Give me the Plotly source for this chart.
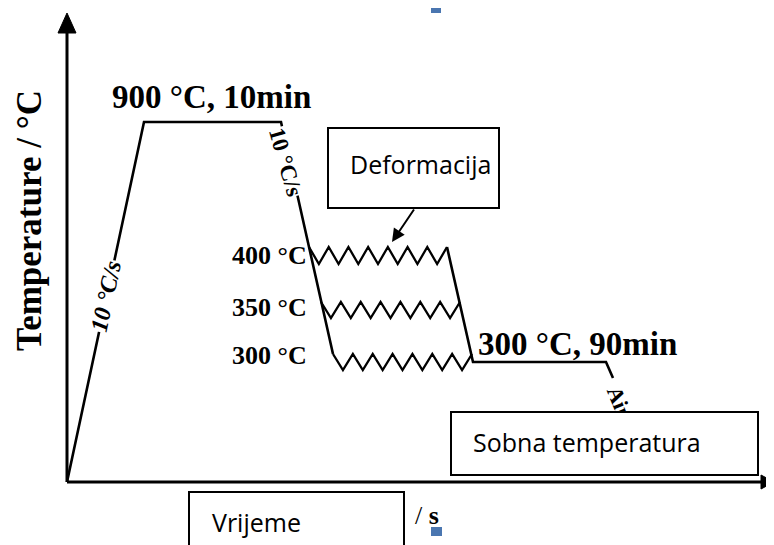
import plotly.graph_objects as go

# ---- schematic data (time units / schematic temperature-axis height) ----
cycle_t = [0, 77, 214, 266]          # heating, 900 °C hold, cooling to deformation
cycle_h = [0, 360, 360, 128]
hold_t = [380, 406, 539, 546]        # after deformation: to 300 °C hold, then air
hold_h = [235, 120, 120, 104]
deform_labels = ["400 °C", "350 °C", "300 °C"]
deform_start_t = [242, 254, 266]
deform_end_t = [380, 393, 405]
deform_h = [235, 180, 128]
deform_amp = [17, 16, 16]
deform_teeth = [7, 7, 7]
label_dy = [-8, -5, -1]

SERIF = "Liberation Serif"
SANS = "Open Sans"

fig = go.Figure()

# main cycle lines
fig.add_trace(go.Scatter(x=cycle_t, y=cycle_h, mode="lines",
                         line=dict(color="black", width=2.6), hoverinfo="skip"))
fig.add_trace(go.Scatter(x=hold_t, y=hold_h, mode="lines",
                         line=dict(color="black", width=2.6), hoverinfo="skip"))

# deformation zigzags
for x0, x1, h, a, n in zip(deform_start_t, deform_end_t, deform_h, deform_amp, deform_teeth):
    p = (x1 - x0) / n
    xs = [x0 + k * p / 2 for k in range(2 * n + 1)]
    ys = [h if k % 2 == 0 else h - a for k in range(2 * n + 1)]
    fig.add_trace(go.Scatter(x=xs, y=ys, mode="lines",
                             line=dict(color="black", width=2.3), hoverinfo="skip"))

shapes = []
# axes
shapes.append(dict(type="line", x0=0, y0=0, x1=0, y1=452, line=dict(color="black", width=3)))
shapes.append(dict(type="line", x0=0, y0=0, x1=698, y1=0, line=dict(color="black", width=3)))
shapes.append(dict(type="path", path="M -9,449 L 0,469 L 9,449 Z", fillcolor="black",
                   line=dict(color="black", width=1)))
shapes.append(dict(type="path", path="M 694,-7 L 707,0 L 694,7 Z", fillcolor="black",
                   line=dict(color="black", width=1)))
# blue marks
shapes.append(dict(type="rect", x0=364, x1=374, y0=469, y1=475, fillcolor="#4a76b0",
                   line=dict(width=0)))
shapes.append(dict(type="rect", x0=364, x1=375, y0=-54, y1=-45, fillcolor="#4a76b0",
                   line=dict(width=0)))

ann = []
def txt(x, y, s, size, font=SERIF, xanchor="center", angle=0, bg=None, color="black"):
    d = dict(x=x, y=y, xref="x", yref="y", text=s, showarrow=False, xanchor=xanchor,
             yanchor="middle", textangle=angle, font=dict(family=font, size=size, color=color),
             borderpad=0)
    if bg:
        d["bgcolor"] = bg
    ann.append(d)

txt(144, 385, "<b>900 °C, 10min</b>", 33)
txt(410, 138, "<b>300 °C, 90min</b>", 33, xanchor="left")
lab_x = min(deform_start_t) - 1
for lab, h, dy in zip(deform_labels, deform_h, label_dy):
    txt(lab_x, h + dy, "<b>" + lab + "</b>", 26, xanchor="right")
txt(39, 186, "<b><i>10 °C/s</i></b>", 24, angle=-78, bg="white")
txt(219, 320, "<b>10 °C/s</b>", 23, angle=74, bg="white")
txt(553, 80, "<b>Air</b>", 22, angle=68)

# boxes (white annotations so they mask what is beneath)
def box(x0, x1, y0, y1):
    ann.append(dict(x=(x0 + x1) / 2, y=(y0 + y1) / 2, xref="x", yref="y", text="&nbsp;",
                    showarrow=False, width=x1 - x0, height=y1 - y0, bgcolor="white",
                    bordercolor="black", borderwidth=2, borderpad=0,
                    xanchor="center", yanchor="middle"))

box(262, 431, 275, 353)
txt(282, 318, "Deformacija", 25, font=SANS, xanchor="left")
box(385, 690, 8, 69)
txt(405, 40, "Sobna temperatura", 25, font=SANS, xanchor="left")
box(123, 336, -75, -11)
txt(144, -40, "Vrijeme", 25, font=SANS, xanchor="left")
txt(360, -33, "/ <b>s</b>", 26)

# arrow from Deformacija box
ann.append(dict(x=325, y=240, ax=348, ay=274, xref="x", yref="y", axref="x", ayref="y",
                text="", showarrow=True, arrowhead=2, arrowsize=1.3, arrowwidth=2,
                arrowcolor="black"))

ann.append(dict(x=-38, y=261, xref="x", yref="y", text="<b>Temperature / °C</b>",
                showarrow=False, textangle=-90, font=dict(family=SERIF, size=35, color="black")))

# the page body keeps an 8 px margin, so the ranges are offset by 8 px
fig.update_layout(
    width=774, height=545, margin=dict(l=0, r=0, t=0, b=0),
    paper_bgcolor="white", plot_bgcolor="white", showlegend=False,
    xaxis=dict(range=[-59, 715], visible=False, fixedrange=True),
    yaxis=dict(range=[-71, 474], visible=False, fixedrange=True),
    shapes=shapes, annotations=ann,
)

fig.write_html("out.html")
